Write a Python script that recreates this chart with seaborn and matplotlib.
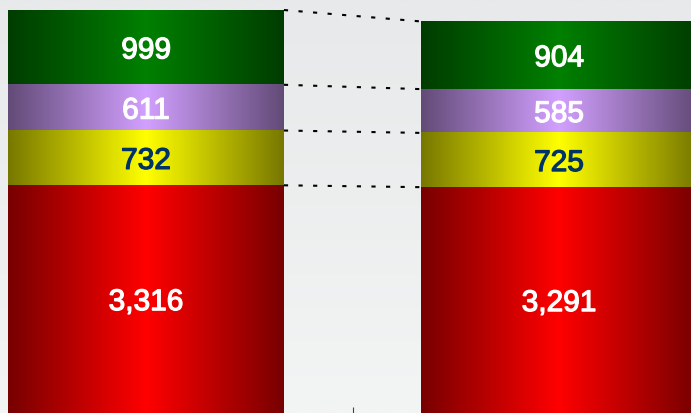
import numpy as np
import pandas as pd
import matplotlib
matplotlib.use("Agg")
import matplotlib.pyplot as plt
import matplotlib.patheffects as pe
import matplotlib.transforms as mtransforms
import seaborn as sns

# data (bottom segment first)
periods = ["Period 1", "Period 2"]
segments = ["Red", "Yellow", "Purple", "Green"]
red_vals = [3316, 3291]
yellow_vals = [732, 725]
purple_vals = [611, 585]
green_vals = [999, 904]

seg_values = [red_vals, yellow_vals, purple_vals, green_vals]
seg_colors = ["#ff0000", "#ffff00", "#d2a0ff", "#008000"]
label_colors = ["white", "#003366", "white", "white"]

sns.set_theme(style="white")
plt.rcParams["font.family"] = ["Liberation Sans", "DejaVu Sans"]

fig = plt.figure(figsize=(6.91, 4.14), dpi=100)
ax = fig.add_axes([0, 0, 1, 1])

bar_w = 0.668
y_lo, y_hi = 274, 5805
x_lo, x_hi = -0.3535, 1.3196

# cumulative totals, drawn tallest first so smaller ones sit on top
cum = np.cumsum(np.array(seg_values), axis=0)
df = pd.DataFrame({"period": periods * len(segments),
                   "segment": np.repeat(segments, len(periods)),
                   "total": cum.ravel()})

for i in reversed(range(len(segments))):
    sub = df[df["segment"] == segments[i]]
    n_before = len(ax.patches)
    sns.barplot(data=sub, x="period", y="total", color=seg_colors[i],
                width=bar_w, ax=ax, errorbar=None, zorder=2 + (3 - i))
    # replace flat fill with a cylinder-like horizontal gradient
    base = np.array(matplotlib.colors.to_rgb(seg_colors[i]))
    t = np.linspace(-1, 1, 256)
    shade = 0.47 + 0.53 * (1 - np.abs(t))
    grad = (base[None, :] * shade[:, None])[None, :, :]
    for p in ax.patches[n_before:]:
        x0, y0 = p.get_x(), p.get_y()
        w, h = p.get_width(), p.get_height()
        ax.imshow(grad, extent=[x0, x0 + w, y0, y0 + h], aspect="auto",
                  interpolation="bilinear", zorder=2 + (3 - i))
        p.set_visible(False)

# value labels, centred on the visible part of each segment
bottoms = cum - np.array(seg_values)
shift = mtransforms.offset_copy(ax.transData, fig=fig, x=0, y=-3, units="dots")
for i in range(len(segments)):
    for j in range(len(periods)):
        lo = max(bottoms[i][j], y_lo)
        ax.text(j, (lo + cum[i][j]) / 2, f"{seg_values[i][j]:,}", transform=shift,
                ha="center", va="center", fontsize=21.5,
                color=label_colors[i], zorder=10,
                path_effects=[pe.withStroke(linewidth=0.9, foreground=label_colors[i])])

# dotted connectors between segment tops
for i in range(len(segments)):
    ax.plot([0 + bar_w / 2, 1 - bar_w / 2], [cum[i][0], cum[i][1]],
            color="black", lw=1.5, linestyle=(0, (2, 5)), zorder=9)

# light vertical background gradient
bg = np.linspace(np.array([231, 233, 234]) / 255, np.array([243, 244, 244]) / 255, 64)
ax.imshow(bg[:, None, :], extent=[0, 1, 0, 1], transform=ax.transAxes,
          aspect="auto", interpolation="bilinear", zorder=0)

ax.set_xlim(x_lo, x_hi)
ax.set_ylim(y_lo, y_hi)
ax.set_xticks([0.5])
ax.set_xticklabels([])
ax.set_yticks([])
ax.tick_params(axis="x", direction="in", length=4.5, width=0.8, color="#444444", bottom=True)
ax.set_xlabel("")
ax.set_ylabel("")
for s in ax.spines.values():
    s.set_visible(False)

fig.savefig("out.png", dpi=100)
